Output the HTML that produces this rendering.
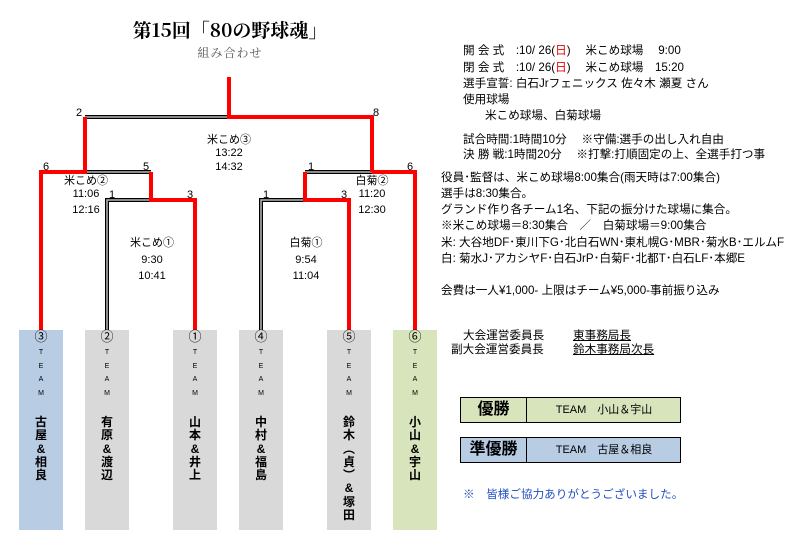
<!DOCTYPE html>
<html><head><meta charset="utf-8"><style>
body{margin:0;width:800px;height:547px;background:#fff;position:relative;overflow:hidden;font-family:"Liberation Sans","Noto Sans CJK JP",sans-serif;color:#000}
.a{position:absolute;white-space:nowrap}
.t{font-size:11.6px;line-height:16px}
.box{position:absolute;top:330px;width:44px;height:200px;text-align:center;font-size:12px;font-weight:bold}
.box .c{position:absolute;top:0;left:0;width:100%;font-size:13px;font-weight:normal;line-height:14px}
.box .tm{position:absolute;top:16px;left:0;width:100%;font-size:7px;line-height:13.5px;font-weight:normal}
.box .n{position:absolute;top:86px;left:0;width:100%;line-height:13.3px}
</style></head><body>
<div class="a" style="left:130px;top:16px;width:200px;text-align:center;font-family:'Noto Serif CJK SC','Liberation Serif',serif;font-weight:bold;font-size:19px">第15回「80の野球魂」</div>
<div class="a" style="left:130px;top:44px;width:200px;text-align:center;font-family:'Noto Serif CJK SC',serif;font-size:12px;color:#555;letter-spacing:1px">組み合わせ</div>

<svg class="a" style="left:0;top:0" width="800" height="547">
<g fill="none" stroke-linejoin="miter">
<g stroke="#000" stroke-width="4"><path d="M85 117H229M85 172H151M107 330V200H151M305 172H372M261 330V200H305"/></g>
<g stroke="#bbb" stroke-width="1.5"><path d="M85 117H229M85 172H151M107 330V200H151M305 172H372M261 330V200H305"/></g>
<g stroke="#f00" stroke-width="4"><path d="M229 77V117H372V172M85 117V172H41V330M151 172V200H195V330M372 172H415V330M305 172V200H349V330"/></g>
</g>
<g font-size="11" font-family="Liberation Sans,sans-serif">
<text x="76" y="116">2</text><text x="373" y="116">8</text>
<text x="43" y="170">6</text><text x="143" y="170">5</text><text x="109" y="198">1</text><text x="187" y="198">3</text>
<text x="308" y="170">1</text><text x="407" y="170">6</text><text x="263" y="198">1</text><text x="341" y="198">3</text>
</g>
<g font-size="11" text-anchor="middle" font-family="Liberation Sans,Noto Sans CJK JP,sans-serif">
<text x="229" y="143">米こめ③</text><text x="229" y="156">13:22</text><text x="229" y="170">14:32</text>
<text x="86" y="184">米こめ②</text><text x="86" y="197">11:06</text><text x="86" y="213">12:16</text>
<text x="152" y="246">米こめ①</text><text x="152" y="263">9:30</text><text x="152" y="279">10:41</text>
<text x="306" y="246">白菊①</text><text x="306" y="263">9:54</text><text x="306" y="279">11:04</text>
<text x="372" y="184">白菊②</text><text x="372" y="197">11:20</text><text x="372" y="213">12:30</text>
</g>
</svg>

<div class="box" style="left:19px;background:#b8cce4"><div class="c">③</div><div class="tm">T<br>E<br>A<br>M</div><div class="n">古<br>屋<br>&amp;<br>相<br>良</div></div>
<div class="box" style="left:85px;background:#d9d9d9"><div class="c">②</div><div class="tm">T<br>E<br>A<br>M</div><div class="n">有<br>原<br>&amp;<br>渡<br>辺</div></div>
<div class="box" style="left:173px;background:#d9d9d9"><div class="c">①</div><div class="tm">T<br>E<br>A<br>M</div><div class="n">山<br>本<br>&amp;<br>井<br>上</div></div>
<div class="box" style="left:239px;background:#d9d9d9"><div class="c">④</div><div class="tm">T<br>E<br>A<br>M</div><div class="n">中<br>村<br>&amp;<br>福<br>島</div></div>
<div class="box" style="left:327px;background:#d9d9d9"><div class="c">⑤</div><div class="tm">T<br>E<br>A<br>M</div><div class="n">鈴<br>木<br>︵<br>貞<br>︶<br>&amp;<br>塚<br>田</div></div>
<div class="box" style="left:393px;background:#d8e4bc"><div class="c">⑥</div><div class="tm">T<br>E<br>A<br>M</div><div class="n">小<br>山<br>&amp;<br>宇<br>山</div></div>

<div class="a t" style="left:463px;top:43px">開 会 式　:10/ 26(<span style="color:#e00">日</span>)　 米こめ球場　 9:00</div>
<div class="a t" style="left:463px;top:60px">閉 会 式　:10/ 26(<span style="color:#e00">日</span>)　 米こめ球場　15:20</div>
<div class="a t" style="left:463px;top:76px">選手宣誓: 白石Jrフェニックス 佐々木 瀬夏 さん</div>
<div class="a t" style="left:463px;top:92px">使用球場</div>
<div class="a t" style="left:485px;top:108px">米こめ球場、白菊球場</div>
<div class="a t" style="left:463px;top:132px">試合時間:1時間10分　 ※守備:選手の出し入れ自由</div>
<div class="a t" style="left:463px;top:147px">決 勝 戦:1時間20分　 ※打撃:打順固定の上、全選手打つ事</div>
<div class="a t" style="left:441px;top:170px">役員･監督は、米こめ球場8:00集合(雨天時は7:00集合)</div>
<div class="a t" style="left:441px;top:186px">選手は8:30集合。</div>
<div class="a t" style="left:441px;top:202px">グランド作り各チーム1名、下記の振分けた球場に集合。</div>
<div class="a t" style="left:441px;top:218px">※米こめ球場＝8:30集合　／　白菊球場＝9:00集合</div>
<div class="a t" style="left:441px;top:235px">米: 大谷地DF･東川下G･北白石WN･東札幌G･MBR･菊水B･エルムF</div>
<div class="a t" style="left:441px;top:251px">白: 菊水J･アカシヤF･白石JrP･白菊F･北都T･白石LF･本郷E</div>
<div class="a t" style="left:441px;top:283px">会費は一人¥1,000- 上限はチーム¥5,000-事前振り込み</div>

<div class="a t" style="left:463px;top:328px">大会運営委員長</div>
<div class="a t" style="left:451px;top:342px">副大会運営委員長</div>
<div class="a t" style="left:573px;top:328px;text-decoration:underline">東事務局長</div>
<div class="a t" style="left:573px;top:342px;text-decoration:underline">鈴木事務局次長</div>

<div class="a" style="left:460px;top:397px;width:219px;height:24px;border:1.5px solid #000;background:#d8e4bc">
<div class="a" style="left:0;top:0;width:65px;height:24px;border-right:1.5px solid #000;text-align:center;font-size:16px;line-height:24px;font-weight:bold">優勝</div>
<div class="a" style="left:67px;top:0;width:152px;height:24px;text-align:center;font-size:11px;line-height:24px">TEAM　小山＆宇山</div></div>
<div class="a" style="left:460px;top:437px;width:219px;height:24px;border:1.5px solid #000;background:#b8cce4">
<div class="a" style="left:0;top:0;width:65px;height:24px;border-right:1.5px solid #000;text-align:center;font-size:16px;line-height:24px;font-weight:bold">準優勝</div>
<div class="a" style="left:67px;top:0;width:152px;height:24px;text-align:center;font-size:11px;line-height:24px">TEAM　古屋＆相良</div></div>
<div class="a t" style="left:463px;top:487px;color:#2050c0">※　皆様ご協力ありがとうございました。</div>
</body></html>
